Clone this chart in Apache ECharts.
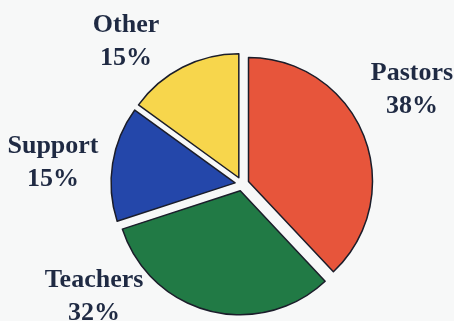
<!DOCTYPE html>
<html>
<head>
<meta charset="utf-8">
<title>Staff breakdown</title>
<script src="https://cdn.jsdelivr.net/npm/echarts@6/dist/echarts.min.js"></script>
<style>
  html, body { margin: 0; padding: 0; background: #f7f8f8; }
  #chart { width: 454px; height: 321px; }
</style>
</head>
<body>
<div id="chart"></div>
<script>
// Share of staff by role (percent), clockwise from 12 o'clock
const categories = ['Pastors', 'Teachers', 'Support', 'Other'];
const shares = [38, 32, 15, 15];

// Slice fills, in the same order as the categories
const sliceColors = ['#e7553b', '#217a45', '#2447aa', '#f7d64c'];

// Where each two-line label sits (centre of the text block, px)
const labelAnchors = {
  Pastors: [412, 90],
  Teachers: [94, 297],
  Support: [53, 163],
  Other: [126, 42]
};

const chart = echarts.init(document.getElementById('chart'), null, { renderer: 'canvas' });

// Category name over its percentage, as free-standing text beside each slice
const labelTexts = categories.map((name, i) => ({
  type: 'text',
  silent: true,
  style: {
    text: name + '\n' + shares[i] + '%',
    x: labelAnchors[name][0],
    y: labelAnchors[name][1],
    align: 'center',
    verticalAlign: 'middle',
    font: 'bold 26px "Liberation Serif", "Times New Roman", serif',
    lineHeight: 33,
    fill: '#1f2a43'
  }
}));

chart.setOption({
  backgroundColor: '#f7f8f8',
  animation: false,
  graphic: labelTexts,
  series: [{
    type: 'pie',
    center: [242, 184],
    radius: 124,
    startAngle: 90,
    clockwise: true,
    selectedMode: 'multiple',
    selectedOffset: 7,
    itemStyle: {
      borderColor: '#1b1d2a',
      borderWidth: 1.5
    },
    label: { show: false },
    labelLine: { show: false },
    emphasis: { disabled: true },
    data: categories.map((name, i) => ({
      name: name,
      value: shares[i],
      selected: true,
      itemStyle: { color: sliceColors[i] }
    }))
  }]
});
</script>
</body>
</html>
